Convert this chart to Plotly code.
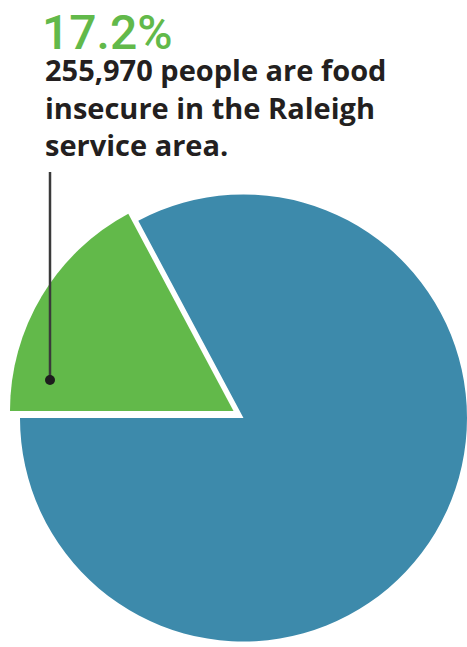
import plotly.graph_objects as go

# ---- data ----
labels = ["Food insecure", "Food secure"]
values = [17.2, 82.8]
headline = "17.2%"
caption_lines = ["255,970 people are food", "insecure in the Raleigh", "service area."]

W, H = 467, 647
BLUE = "#3d8aab"
GREEN = "#62b94a"
TEXT = "#231f20"
CLEAR = "rgba(0,0,0,0)"


def px(x):
    return x / W


def py(y):
    return 1 - y / H


fig = go.Figure()

# main (blue) part of the pie
fig.add_trace(go.Pie(
    labels=labels, values=values, sort=False,
    direction="clockwise", rotation=270,
    marker=dict(colors=[CLEAR, BLUE], line=dict(width=0)),
    textinfo="none", hoverinfo="label+percent", showlegend=False,
    domain=dict(x=[0.0428, 1.0], y=[0.0062, 0.7017]),
))

# highlighted (green) slice, offset up-left
fig.add_trace(go.Pie(
    labels=labels, values=values, sort=False,
    direction="clockwise", rotation=270,
    marker=dict(colors=[GREEN, CLEAR], line=dict(width=0)),
    textinfo="none", hoverinfo="label+percent", showlegend=False,
    domain=dict(x=[0.0214, 0.9786], y=[0.0193, 0.7102]),
))

annotations = [
    dict(text=headline, x=px(40), y=py(2), xref="paper", yref="paper",
         xanchor="left", yanchor="top", showarrow=False,
         font=dict(family="Roboto", size=48, color=GREEN, weight=500)),
    dict(text="<br>".join(caption_lines), x=px(43), y=py(107.5),
         xref="paper", yref="paper", align="left",
         xanchor="left", yanchor="middle", showarrow=False,
         font=dict(family="Open Sans", size=29, color=TEXT, weight="bold")),
]

shapes = [
    dict(type="line", xref="paper", yref="paper",
         x0=px(50), x1=px(50), y0=py(172), y1=py(380),
         line=dict(color="#3a3a3a", width=2.5)),
    dict(type="circle", xref="paper", yref="paper",
         x0=px(45), x1=px(55), y0=py(375), y1=py(385),
         fillcolor="#1d1d1d", line=dict(width=0)),
]

fig.update_layout(
    width=W, height=H,
    margin=dict(l=0, r=0, t=0, b=0),
    paper_bgcolor="white", plot_bgcolor="white",
    annotations=annotations, shapes=shapes,
)

fig.write_html("out.html")
